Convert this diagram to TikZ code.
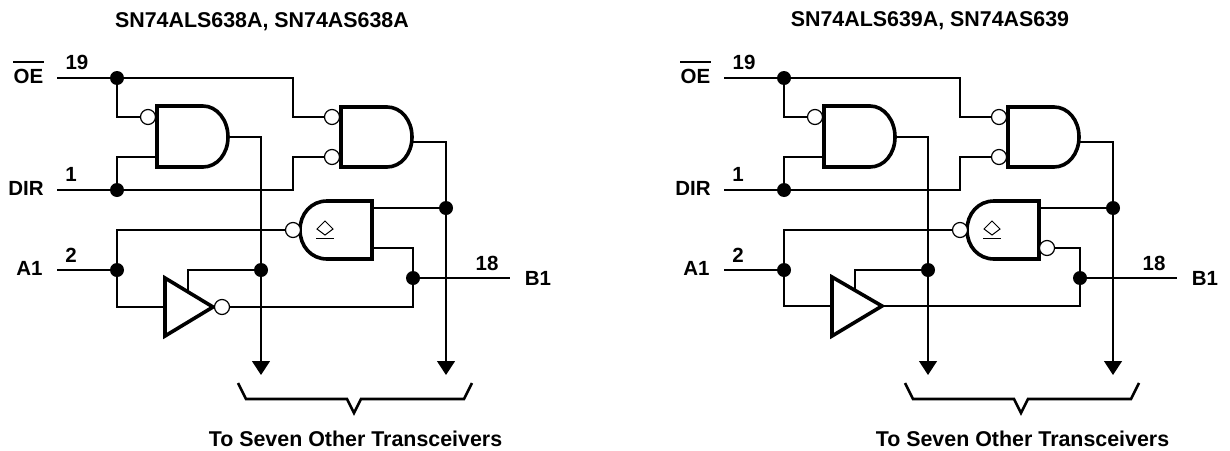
\documentclass[tikz,border=0pt]{standalone}
\usepackage{fontspec}
\setmainfont{Liberation Sans}
\usetikzlibrary{arrows.meta}
\tikzset{
  x=1pt,y=-1pt,
  wire/.style={line width=1.2pt,black},
  gateline/.style={line width=3.6pt,black,line join=miter,fill=white},
  jdot/.style={circle,fill=black,inner sep=0pt,minimum size=14pt},
  bub/.style={circle,draw=black,line width=1.2pt,fill=white,inner sep=0pt,minimum size=15pt},
  lab/.style={inner sep=0pt,font=\fontsize{20.5}{20.5}\selectfont\bfseries},
  bigl/.style={inner sep=0pt,font=\fontsize{21.4}{21.4}\selectfont\bfseries},
  tip/.style={-{Triangle[width=18pt,length=14pt]},line width=1.2pt},
  brace/.style={line width=2.6pt,line join=miter},
}
\newcommand{\gates}[2]{%
\begin{scope}[xshift=#2pt]
  \coordinate (#1oe) at (57,78);
  \coordinate (#1dir) at (57,190);
  \coordinate (#1a) at (57,270);
  \coordinate (#1b) at (510,278);
  \coordinate (#1ta) at (261,375);
  \coordinate (#1tb) at (446,375);
  \node[jdot] (#1d1) at (117,78) {};
  \node[jdot] (#1d2) at (117,190) {};
  \node[jdot] (#1d3) at (117,270) {};
  \node[jdot] (#1d4) at (261,270) {};
  \node[jdot] (#1d5) at (446,208) {};
  \node[jdot] (#1d6) at (413,278) {};
  \coordinate (#1g1a) at (157,157);
  \coordinate (#1g1o) at (228,137);
  \coordinate (#1g2o) at (412,142);
  \coordinate (#1g3t) at (372,208);
  % wires
  \draw[wire] (#1oe) -- (#1d1.center) -- (293,78) |- (325,117);
  \draw[wire] (#1d1.center) |- (141,117);
  \draw[wire] (#1dir) -- (#1d2.center) -- (293,190) |- (325,157);
  \draw[wire] (#1d2.center) |- (#1g1a);
  \draw[wire] (#1a) -- (#1d3.center);
  \draw[wire] (#1d3.center) |- (286,230);
  \draw[tip] (#1g1o) -| (#1ta);
  \draw[tip] (#1g2o) -| (#1tb);
  \draw[wire] (#1g3t) -- (#1d5.center);
  \draw[wire] (#1d6.center) -- (#1b);
  \draw[wire] (#1d4.center) -- (188,270) -- (188,290);
  % gates
  \draw[gateline] (157,106) -- (203,106) .. controls (217,106) and (228,120) .. (228,137)
     .. controls (228,154) and (217,167) .. (203,167) -- (157,167) -- cycle;
  \draw[gateline] (341,107) -- (387,107) .. controls (401,107) and (412,120) .. (412,137)
     .. controls (412,154) and (401,167) .. (387,167) -- (341,167) -- cycle;
  \draw[gateline] (372,201) -- (327,201) .. controls (311,201) and (300,214) .. (300,230)
     .. controls (300,246) and (311,259) .. (327,259) -- (372,259) -- cycle;
  \node[bub] (#1b1) at (148,117) {};
  \node[bub] (#1b2) at (332,117) {};
  \node[bub] (#1b3) at (332,157) {};
  \node[bub] (#1b4) at (293,230) {};
  \draw[line width=1pt] (325,221) -- (333,229) -- (325,235) -- (317,229) -- cycle;
  \draw[line width=1pt] (316,238) -- (334,238);
  % labels
  \node[lab] (#1l1) at (28.5,76.5) {OE};
  \draw[line width=2pt] (13,62) -- (44,62);
  \node[lab] (#1l2) at (26,188.5) {DIR};
  \node[lab] (#1l3) at (29.5,268.5) {A1};
  \node[lab] (#1l4) at (77,62) {19};
  \node[lab] (#1l5) at (71,174) {1};
  \node[lab] (#1l6) at (71,255) {2};
  \node[lab] (#1l7) at (487,263) {18};
  \node[lab] (#1l8) at (538,278) {B1};
  \node[bigl] (#1l9) at (355.5,439) {To Seven Other Transceivers};
  % bracket
  \draw[brace] (238,383) -- (246,399) -- (347,399) -- (354,413) -- (361,399) -- (464,399) -- (472,383);
\end{scope}}
\begin{document}
\begin{tikzpicture}
\useasboundingbox (0,0) rectangle (1230,450);
\gates{p}{0}
\gates{q}{667}
% left panel: inverting buffer, plain tristate output
\draw[wire] (pd3.center) |- (165,307);
\draw[wire] (372,248) -| (pd6.center);
\draw[wire] (pd6.center) |- (227,307);
\draw[gateline] (165,278) -- (213,307) -- (165,336) -- cycle;
\node[bub] (pb5) at (222,307) {};
% right panel: plain buffer, inverted tristate output
\draw[wire] (qd3.center) |- (832,306);
\draw[wire] (1054,248) -| (qd6.center);
\draw[wire] (qd6.center) |- (883,306);
\draw[gateline] (832,277) -- (882,306) -- (832,336) -- cycle;
\node[bub] (qb5) at (1047,248) {};
% titles
\node[bigl] (t1) at (262,21.5) {SN74ALS638A, SN74AS638A};
\node[bigl] (t2) at (930,21) {SN74ALS639A, SN74AS639};
\end{tikzpicture}
\end{document}
